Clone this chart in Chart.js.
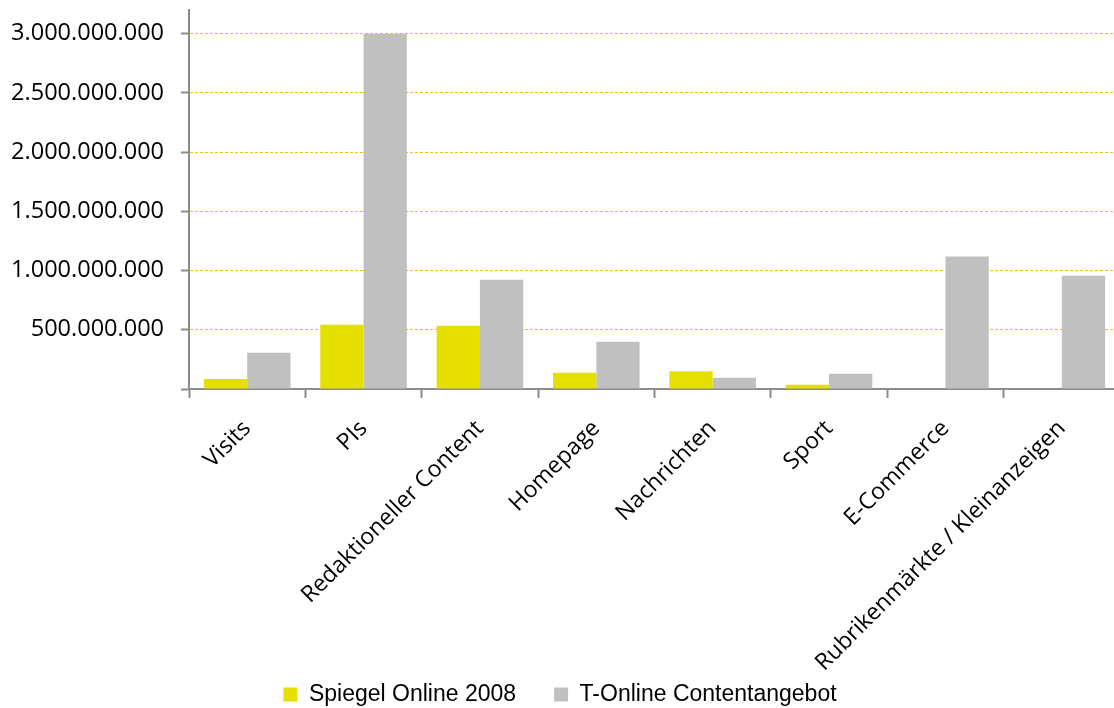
<!DOCTYPE html>
<html>
<head>
<meta charset="utf-8">
<script src="https://cdn.jsdelivr.net/npm/chart.js@4.4.1/dist/chart.umd.min.js"></script>
<style>
    html, body { margin: 0; padding: 0; background: #fff; overflow: hidden; width: 1114px; height: 708px; }
    #wrap { width: 1120px; height: 708px; }
</style>
</head>
<body>
<div id="wrap"><canvas id="barChart"></canvas></div>
<script>
// ================== DATEN ==================
const categories = ['Visits', 'PIs', 'Redaktioneller Content', 'Homepage', 'Nachrichten', 'Sport', 'E-Commerce', 'Rubrikenmärkte / Kleinanzeigen'];
const spiegelValues = [84e6, 543e6, 534e6, 138e6, 149e6, 36e6, null, null];
const tonlineValues = [306e6, 3000e6, 922e6, 400e6, 95e6, 129e6, 1119e6, 956e6];
const seriesNames = ['Spiegel Online 2008', 'T-Online Contentangebot'];
const yTicks = [0, 5e8, 1e9, 1.5e9, 2e9, 2.5e9, 3e9];
const yMax = 3.2e9;

const axisGray = '#8c8c8c';
const gridGold = '#f3bd1a';

function formatDE(value) {
    return String(Math.round(value)).replace(/\B(?=(\d{3})+(?!\d))/g, '.');
}

// Beschriftungen der x-Achse dürfen in den Legendenbereich ragen
const labelClipFix = {
    id: 'labelClipFix',
    afterLayout(chart) {
        chart.scales.x.bottom = chart.height;
    }
};

const chartData = {
    labels: categories,
    datasets: [
        {
            label: seriesNames[0],
            data: spiegelValues,
            backgroundColor: '#e6e000',
            borderWidth: 0,
            categoryPercentage: 0.744,
            barPercentage: 1
        },
        {
            label: seriesNames[1],
            data: tonlineValues,
            backgroundColor: '#c0c0c0',
            borderWidth: 0,
            categoryPercentage: 0.744,
            barPercentage: 1
        }
    ]
};

const chartOptions = {
    responsive: true,
    maintainAspectRatio: false,
    animation: false,
    layout: { padding: { top: 10, left: 0, right: 0, bottom: -8 } },
    plugins: {
        tooltip: { enabled: false },
        legend: {
            position: 'bottom',
            labels: {
                color: '#000',
                font: { family: '"Liberation Sans", Arial, sans-serif', size: 23 },
                boxWidth: 14,
                boxHeight: 14,
                padding: 38
            }
        }
    },
    scales: {
        x: {
            grid: {
                offset: true,
                drawOnChartArea: false,
                drawTicks: true,
                tickLength: 9,
                tickColor: axisGray,
                tickWidth: 2
            },
            border: { color: axisGray, width: 2 },
            ticks: {
                color: '#000',
                font: { family: '"Open Sans", sans-serif', size: 23 },
                maxRotation: 45,
                minRotation: 45,
                autoSkip: false,
                padding: 17
            },
            afterFit: scale => {
                scale.height = 256;
                scale.paddingLeft = 0;
                scale.paddingRight = 0;
            }
        },
        y: {
            min: 0,
            max: yMax,
            afterBuildTicks: scale => {
                scale.ticks = yTicks.map(v => ({ value: v }));
            },
            grid: {
                color: ctx => (ctx.tick && ctx.tick.value === 0) ? 'rgba(0,0,0,0)' : gridGold,
                lineWidth: 1,
                drawTicks: true,
                tickLength: 8,
                tickColor: axisGray,
                tickWidth: 2
            },
            border: { color: axisGray, width: 2, dash: [3, 2] },
            ticks: {
                color: '#000',
                font: { family: '"Open Sans", sans-serif', size: 23.5 },
                padding: 17,
                callback: value => value === 0 ? '' : formatDE(value)
            },
            afterFit: scale => {
                scale.width = 189;
                scale.paddingTop = 0;
                scale.paddingBottom = 0;
            }
        }
    }
};

const ctx = document.getElementById('barChart').getContext('2d');
const barChart = new Chart(ctx, {
    type: 'bar',
    data: chartData,
    options: chartOptions,
    plugins: [labelClipFix]
});
</script>
</body>
</html>
